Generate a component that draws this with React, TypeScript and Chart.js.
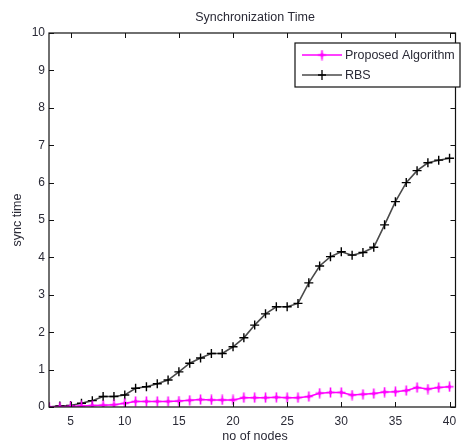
import { useEffect, useRef } from "react";
import { Chart, registerables } from "chart.js";

Chart.register(...registerables);

// Number of nodes on the horizontal axis
const nodes = [
  3, 4, 5, 6, 7, 8, 9, 10, 11, 12, 13, 14, 15, 16, 17, 18, 19, 20, 21,
  22, 23, 24, 25, 26, 27, 28, 29, 30, 31, 32, 33, 34, 35, 36, 37, 38, 39, 40,
];

// Synchronization time of the proposed algorithm
const proposedTime = [
  0, 0, 0.02, 0.03, 0.04, 0.05, 0.06, 0.1, 0.15, 0.15, 0.15, 0.15, 0.16,
  0.18, 0.2, 0.19, 0.19, 0.19, 0.25, 0.25, 0.25, 0.26, 0.25, 0.25, 0.28,
  0.37, 0.39, 0.39, 0.32, 0.34, 0.36, 0.4, 0.41, 0.44, 0.52, 0.48, 0.52, 0.54,
];

// Synchronization time of RBS
const rbsTime = [
  0, 0.03, 0.04, 0.1, 0.17, 0.28, 0.28, 0.32, 0.5, 0.54, 0.62, 0.72, 0.94,
  1.17, 1.31, 1.43, 1.43, 1.61, 1.85, 2.19, 2.49, 2.68, 2.68, 2.77, 3.32,
  3.77, 4.02, 4.15, 4.06, 4.13, 4.27, 4.87, 5.49, 6.0, 6.32, 6.53, 6.6, 6.65,
];

const xTicks = [5, 10, 15, 20, 25, 30, 35, 40];
const yTicks = [0, 1, 2, 3, 4, 5, 6, 7, 8, 9, 10];

const titleText = "Synchronization Time";
const xTitle = "no of nodes";
const yTitle = "sync time";

const FONT = "'Liberation Sans', Arial, Helvetica, sans-serif";
const TEXT = "#2a2a36";
const MAGENTA = "#ff00ff";

function makePlusDiamond(color: string): HTMLCanvasElement {
  const c = document.createElement("canvas");
  c.width = 11;
  c.height = 11;
  const g = c.getContext("2d")!;
  g.strokeStyle = color;
  g.fillStyle = color;
  g.lineWidth = 1.6;
  g.beginPath();
  g.moveTo(5.5, 0.5);
  g.lineTo(5.5, 10.5);
  g.moveTo(1.5, 5.5);
  g.lineTo(9.5, 5.5);
  g.stroke();
  g.beginPath();
  g.moveTo(5.5, 2.5);
  g.lineTo(7.5, 5.5);
  g.lineTo(5.5, 8.5);
  g.lineTo(3.5, 5.5);
  g.closePath();
  g.fill();
  return c;
}

export default function App() {
  const ref = useRef<HTMLCanvasElement | null>(null);

  useEffect(() => {
    const canvas = ref.current;
    if (!canvas) return;
    const magentaMark = makePlusDiamond(MAGENTA);

    // Box frame, inward ticks, title, axis titles and the boxed legend
    const framePlugin = {
      id: "frame",
      afterDraw(chart: any) {
        const ctx = chart.ctx as CanvasRenderingContext2D;
        const { left, right, top, bottom } = chart.chartArea;
        const xs = chart.scales.x;
        const ys = chart.scales.y;
        ctx.save();
        ctx.strokeStyle = "#111";
        ctx.lineWidth = 1.2;
        ctx.strokeRect(left, top, right - left, bottom - top);
        ctx.lineWidth = 1;
        ctx.beginPath();
        for (const v of xTicks) {
          const p = Math.round(xs.getPixelForValue(v)) + 0.5;
          ctx.moveTo(p, bottom);
          ctx.lineTo(p, bottom - 5);
          ctx.moveTo(p, top);
          ctx.lineTo(p, top + 5);
        }
        for (const v of yTicks) {
          const p = Math.round(ys.getPixelForValue(v)) + 0.5;
          ctx.moveTo(left, p);
          ctx.lineTo(left + 5, p);
          ctx.moveTo(right, p);
          ctx.lineTo(right - 5, p);
        }
        ctx.stroke();

        // titles
        ctx.fillStyle = TEXT;
        ctx.font = `12.5px ${FONT}`;
        ctx.textAlign = "center";
        ctx.textBaseline = "middle";
        ctx.fillText(titleText, 255, top - 15);
        ctx.fillText(xTitle, 255, bottom + 30);
        ctx.save();
        ctx.translate(18, (top + bottom) / 2);
        ctx.rotate(-Math.PI / 2);
        ctx.fillText(yTitle, 0, 0);
        ctx.restore();

        // legend
        const lx = 295;
        const ly = top + 10;
        const lw = 165;
        const lh = 44;
        ctx.fillStyle = "#fff";
        ctx.fillRect(lx, ly, lw, lh);
        ctx.strokeStyle = "#111";
        ctx.lineWidth = 1.2;
        ctx.strokeRect(lx, ly, lw, lh);
        const ds = chart.data.datasets;
        const rows = [ly + 12, ly + 32];
        ds.forEach((d: any, i: number) => {
          const y = rows[i];
          ctx.strokeStyle = d.borderColor;
          ctx.lineWidth = d.borderWidth;
          ctx.beginPath();
          ctx.moveTo(lx + 7, y);
          ctx.lineTo(lx + 47, y);
          ctx.stroke();
          const cx = lx + 27;
          if (i === 0) {
            ctx.drawImage(magentaMark, cx - 5.5, y - 5.5);
          } else {
            ctx.strokeStyle = "#000";
            ctx.lineWidth = 1.3;
            ctx.beginPath();
            ctx.moveTo(cx, y - 5);
            ctx.lineTo(cx, y + 5);
            ctx.moveTo(cx - 4, y);
            ctx.lineTo(cx + 4, y);
            ctx.stroke();
          }
          ctx.fillStyle = TEXT;
          ctx.textAlign = "left";
          ctx.font = `12.5px ${FONT}`;
          ctx.fillText(d.label, lx + 50, y + 1);
        });
        ctx.restore();
      },
    };

    const chart = new Chart(canvas, {
      type: "line",
      data: {
        datasets: [
          {
            label: "Proposed Algorithm",
            data: nodes.map((n, i) => ({ x: n, y: proposedTime[i] })),
            borderColor: MAGENTA,
            borderWidth: 1.5,
            pointStyle: magentaMark,
            pointRadius: 5,
            pointBorderColor: MAGENTA,
            pointBackgroundColor: MAGENTA,
            tension: 0,
          },
          {
            label: "RBS",
            data: nodes.map((n, i) => ({ x: n, y: rbsTime[i] })),
            borderColor: "#4a4a4a",
            borderWidth: 1.6,
            pointStyle: "cross",
            pointRadius: 4.5,
            pointBorderWidth: 1.4,
            pointBorderColor: "#000",
            pointBackgroundColor: "#000",
            tension: 0,
          },
        ],
      },
      options: {
        responsive: false,
        animation: false,
        events: [],
        layout: { padding: { top: 33, right: 0, left: 0, bottom: 0 } },
        plugins: {
          legend: { display: false },
          title: { display: false },
          tooltip: { enabled: false },
        },
        scales: {
          x: {
            type: "linear",
            min: 3,
            max: 40.55,
            grid: { display: false, drawTicks: false },
            border: { display: false },
            ticks: {
              padding: 7,
              color: TEXT,
              font: { family: FONT, size: 12 },
            },
            afterBuildTicks: (s: any) => {
              s.ticks = xTicks.map((v) => ({ value: v }));
            },
            afterFit: (s: any) => {
              s.height = 41;
              s.paddingLeft = 0;
              s.paddingRight = 0;
            },
          },
          y: {
            min: 0,
            max: 10,
            grid: { display: false, drawTicks: false },
            border: { display: false },
            ticks: {
              padding: 4,
              color: TEXT,
              font: { family: FONT, size: 12 },
            },
            afterBuildTicks: (s: any) => {
              s.ticks = yTicks.map((v) => ({ value: v }));
            },
            afterFit: (s: any) => {
              s.width = 49;
            },
          },
        },
      },
      plugins: [framePlugin],
    });
    return () => chart.destroy();
  }, []);

  return (
    <div style={{ position: "fixed", left: 0, top: 0, width: 462, height: 448, background: "#fff" }}>
      <canvas ref={ref} width={462} height={448} />
    </div>
  );
}
